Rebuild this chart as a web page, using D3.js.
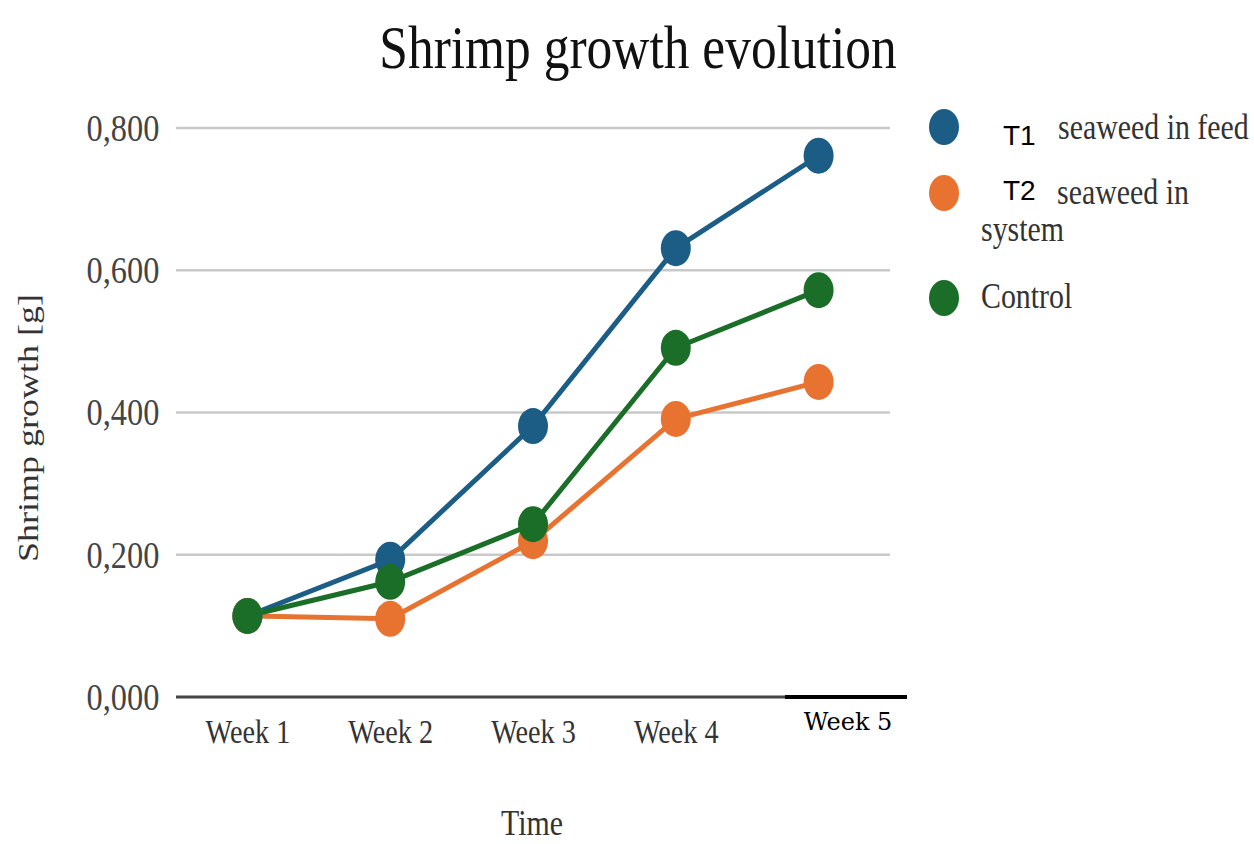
<!DOCTYPE html>
<html>
<head>
<meta charset="utf-8">
<script src="https://cdn.jsdelivr.net/npm/d3@7"></script>
<style>
  body { margin: 0; background: #fff; }
</style>
</head>
<body>
<div id="chart"></div>
<script>
// data
const weeks = ["Week 1", "Week 2", "Week 3", "Week 4", "Week 5"];
const t1Feed = [0.114, 0.193, 0.381, 0.631, 0.761];
const t2System = [0.114, 0.110, 0.219, 0.391, 0.443];
const control = [0.114, 0.162, 0.243, 0.491, 0.572];
const yTicks = [0, 0.2, 0.4, 0.6, 0.8];

const series = [
  {key: "t1", values: t1Feed, color: "#1c5d86"},
  {key: "t2", values: t2System, color: "#e8722f"},
  {key: "control", values: control, color: "#1b6e28"}
];

const W = 1254, H = 844;
const margin = {top: 128, right: 364, bottom: 147, left: 176};
const width = W - margin.left - margin.right,
      height = H - margin.top - margin.bottom;

// the picture is squeezed sideways, so the serif text is too
const serif = "Liberation Serif, Times New Roman, serif";
const squeeze = "scale(0.83,1)";

const svg = d3.select("#chart").append("svg")
    .attr("width", W)
    .attr("height", H);

const g = svg.append("g")
    .attr("transform", `translate(${margin.left},${margin.top})`);

const x = d3.scalePoint()
    .domain(weeks)
    .range([0, width])
    .padding(0.5);

const y = d3.scaleLinear()
    .domain([0, 0.8])
    .range([height, 0]);

const fmt = v => d3.format(".3f")(v).replace(".", ",");

// gridlines
g.append("g")
  .selectAll("line")
  .data(yTicks.filter(d => d > 0))
  .join("line")
    .attr("x1", 0)
    .attr("x2", width)
    .attr("y1", d => y(d))
    .attr("y2", d => y(d))
    .attr("stroke", "#c9c9c9")
    .attr("stroke-width", 2.5);

// y tick labels
const yAxis = g.append("g")
    .call(d3.axisLeft(y).tickValues(yTicks).tickFormat(fmt).tickSize(0));
yAxis.select(".domain").remove();
yAxis.selectAll("text")
    .attr("x", -20)
    .attr("font-family", serif)
    .attr("font-size", 39)
    .attr("fill", "#444")
    .attr("transform", squeeze);

// x axis baseline
g.append("line")
    .attr("x1", 0).attr("x2", width - 105)
    .attr("y1", height).attr("y2", height)
    .attr("stroke", "#444").attr("stroke-width", 3);
g.append("line")
    .attr("x1", width - 105).attr("x2", width + 17)
    .attr("y1", height).attr("y2", height)
    .attr("stroke", "#000").attr("stroke-width", 4);

const xAxis = g.append("g")
    .attr("transform", `translate(0,${height})`)
    .call(d3.axisBottom(x).tickSize(0));
xAxis.select(".domain").remove();
xAxis.selectAll("text")
    .attr("y", 46)
    .attr("dy", 0)
    .attr("font-family", serif)
    .attr("font-size", 34)
    .attr("fill", "#333")
    .attr("transform", squeeze);
// last label was pasted over in a different style
xAxis.selectAll(".tick").filter(d => d === "Week 5").select("text")
    .attr("x", 29)
    .attr("y", 33)
    .attr("font-size", 24)
    .attr("font-family", "DejaVu Serif, serif")
    .attr("fill", "#000")
    .attr("transform", null);

// lines
const line = d3.line()
    .x((d, i) => x(weeks[i]))
    .y(d => y(d));

g.append("g")
  .selectAll("path")
  .data(series)
  .join("path")
    .attr("d", d => line(d.values))
    .attr("fill", "none")
    .attr("stroke", d => d.color)
    .attr("stroke-width", 5);

// markers
series.forEach(s => {
  g.append("g")
    .selectAll("ellipse")
    .data(s.values)
    .join("ellipse")
      .attr("cx", (d, i) => x(weeks[i]))
      .attr("cy", d => y(d))
      .attr("rx", 15)
      .attr("ry", 18)
      .attr("fill", s.color);
});

// title
svg.append("text")
    .attr("transform", `translate(638,68) ${squeeze}`)
    .attr("text-anchor", "middle")
    .attr("font-family", serif)
    .attr("font-size", 62)
    .attr("fill", "#111")
    .text("Shrimp growth evolution");

// axis titles
svg.append("text")
    .attr("transform", "translate(38,428) rotate(-90) scale(1,0.83)")
    .attr("text-anchor", "middle")
    .attr("font-family", serif)
    .attr("font-size", 36)
    .attr("fill", "#333")
    .text("Shrimp growth [g]");

svg.append("text")
    .attr("transform", `translate(532,835) ${squeeze}`)
    .attr("text-anchor", "middle")
    .attr("font-family", serif)
    .attr("font-size", 36)
    .attr("fill", "#333")
    .text("Time");

// legend
const legend = svg.append("g");
const legendY = [127, 193, 298];
legend.selectAll("ellipse")
  .data(series)
  .join("ellipse")
    .attr("cx", 944)
    .attr("cy", (d, i) => legendY[i])
    .attr("rx", 15)
    .attr("ry", 18)
    .attr("fill", d => d.color);

const sans = "Liberation Sans, Arial, sans-serif";
const legendText = [
  {x: 1003, y: 145, text: "T1", sans: true},
  {x: 1058, y: 139, text: "seaweed in feed"},
  {x: 1003, y: 200, text: "T2", sans: true},
  {x: 1057, y: 204, text: "seaweed in"},
  {x: 981, y: 241, text: "system"},
  {x: 981, y: 308, text: "Control"}
];
legend.selectAll("text")
  .data(legendText)
  .join("text")
    .attr("transform", d => d.sans ? `translate(${d.x},${d.y})` : `translate(${d.x},${d.y}) ${squeeze}`)
    .attr("font-family", d => d.sans ? sans : serif)
    .attr("font-size", d => d.sans ? 28 : 36)
    .attr("fill", d => d.sans ? "#000" : "#333")
    .text(d => d.text);
</script>
</body>
</html>
